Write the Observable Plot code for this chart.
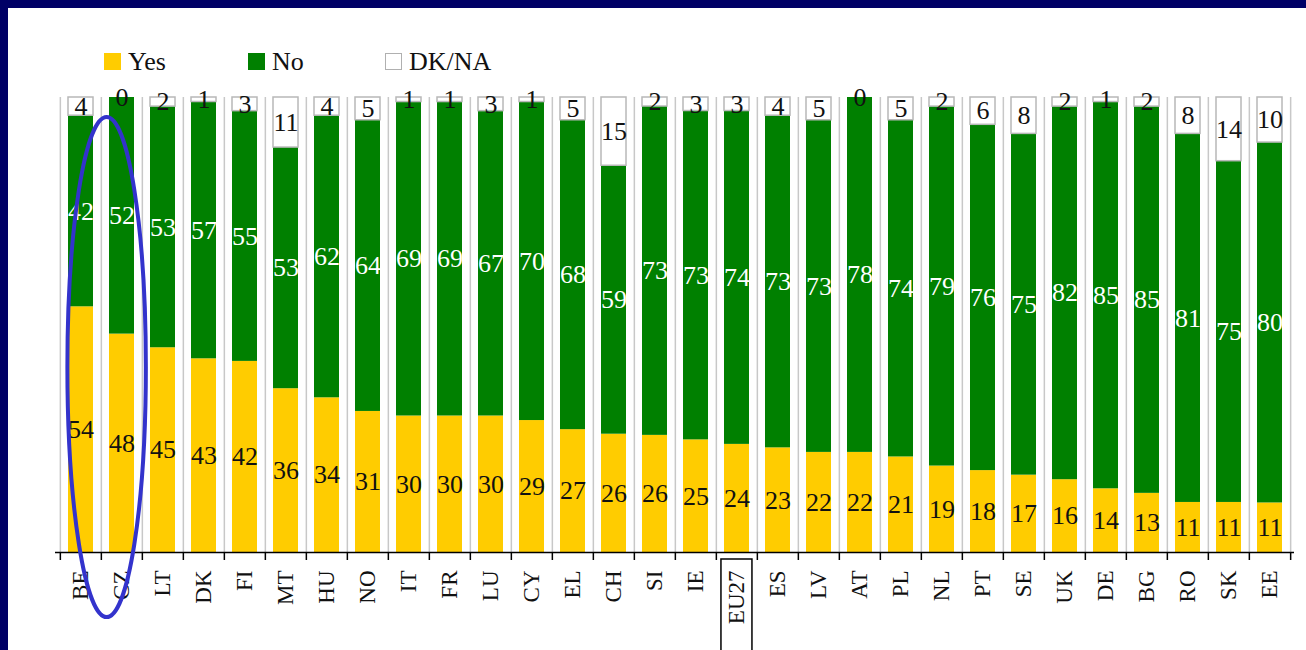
<!DOCTYPE html>
<html><head><meta charset="utf-8">
<script src="https://cdn.jsdelivr.net/npm/d3@7"></script>
<script src="https://cdn.jsdelivr.net/npm/@observablehq/plot@0.6"></script>
<style>
html,body{margin:0;padding:0;background:#fff;width:1306px;height:650px;overflow:hidden;}
#page{position:absolute;left:0;top:0;width:1306px;height:650px;background:#fff;overflow:hidden;font-family:"Liberation Serif",serif;}
.bar{position:absolute;background:#000066;}
.item{position:absolute;top:48px;height:27px;display:flex;align-items:center;font-size:26px;color:#111;white-space:nowrap;}
.sw{width:17px;height:17px;margin-right:7px;box-sizing:border-box;}
#chart{position:absolute;left:8px;top:80px;width:1298px;height:570px;overflow:hidden;}
</style></head>
<body>
<div id="page">
  <div class="bar" style="left:0;top:0;width:1306px;height:8px;"></div>
  <div class="bar" style="left:0;top:0;width:8px;height:650px;"></div>
  <div id="legend"></div>
  <div id="chart"></div>
</div>
<script>
const countries = ["BE","CZ","LT","DK","FI","MT","HU","NO","IT","FR","LU","CY","EL","CH","SI","IE","EU27","ES","LV","AT","PL","NL","PT","SE","UK","DE","BG","RO","SK","EE"];
const yes  = [54,48,45,43,42,36,34,31,30,30,30,29,27,26,26,25,24,23,22,22,21,19,18,17,16,14,13,11,11,11];
const no   = [42,52,53,57,55,53,62,64,69,69,67,70,68,59,73,73,74,73,73,78,74,79,76,75,82,85,85,81,75,80];
const dkna = [4,0,2,1,3,11,4,5,1,1,3,1,5,15,2,3,3,4,5,0,5,2,6,8,2,1,2,8,14,10];
const series = ["Yes","No","DK/NA"];
const colors = ["#FFCC00","#008000","#FFFFFF"];
const legendLeft = [104, 248, 385];
const highlighted = "CZ";
const boxed = "EU27";

const rows = countries.flatMap((c, i) => [
  {country: c, series: "Yes", value: yes[i]},
  {country: c, series: "No", value: no[i]},
  {country: c, series: "DK/NA", value: dkna[i]}
]);

// legend
const legend = document.getElementById("legend");
series.forEach((s, i) => {
  const it = document.createElement("div");
  it.className = "item";
  it.style.left = legendLeft[i] + "px";
  const sw = document.createElement("div");
  sw.className = "sw";
  sw.style.background = colors[i];
  if (s === "DK/NA") sw.style.border = "1.5px solid #b0b0b0";
  it.appendChild(sw);
  const t = document.createElement("span");
  t.textContent = s;
  it.appendChild(t);
  legend.appendChild(it);
});

const W = 1298, H = 570, mL = 47, mR = 12, mT = 17, mB = 98;
const step = (W - mL - mR) / countries.length;
const stackOpts = {x: "country", y: "value", z: "series", offset: "normalize"};

const chart = Plot.plot({
  width: W, height: H,
  marginLeft: mL, marginRight: mR, marginTop: mT, marginBottom: mB,
  style: {fontFamily: "'Liberation Serif', serif", fontSize: "23px", color: "#111", background: "transparent"},
  x: {domain: countries, paddingInner: 0.4, paddingOuter: 0.2, tickSize: 0, tickPadding: 18, tickRotate: -90, label: null},
  y: {domain: [0, 1], axis: null},
  color: {domain: series, range: colors},
  opacity: {type: "identity"},
  marks: [
    Plot.ruleX(countries, {x: d => d, dx: -step / 2, y1: 0, y2: 1, stroke: "#c8c8c8", strokeWidth: 1.5}),
    Plot.ruleX(countries.slice(-1), {x: d => d, dx: step / 2, y1: 0, y2: 1, stroke: "#c8c8c8", strokeWidth: 1.5}),
    Plot.barY(rows, Plot.stackY({...stackOpts, fill: "series"})),
    Plot.barY(rows, Plot.stackY({...stackOpts, fill: "none", stroke: "#b8b8b8", strokeWidth: 1.5,
      strokeOpacity: d => d.series === "DK/NA" ? 1 : 0})),
    Plot.ruleY([0], {stroke: "#000", strokeWidth: 1.5}),
    Plot.ruleX(countries, {x: d => d, dx: -step / 2, y1: 0, y2: 0, insetBottom: -8, stroke: "#000", strokeWidth: 1.5}),
    Plot.ruleX(countries.slice(-1), {x: d => d, dx: step / 2, y1: 0, y2: 0, insetBottom: -8, stroke: "#000", strokeWidth: 1.5}),
    Plot.text(rows, Plot.stackY({...stackOpts, text: d => d.series === "No" ? "" : String(d.value), fill: "#111", fontSize: 26})),
    Plot.text(rows, Plot.stackY({...stackOpts, text: d => d.series === "No" ? String(d.value) : "", fill: "#fff", fontSize: 26}))
  ]
});
document.getElementById("chart").appendChild(chart);

// annotations derived from the chart's scales
const sx = chart.scale("x"), sy = chart.scale("y");
const xb = d3.scaleBand(sx.domain, sx.range).paddingInner(sx.paddingInner).paddingOuter(sx.paddingOuter).align(sx.align ?? 0.5);
const yl = d3.scaleLinear(sy.domain, sy.range);
const svg = d3.select(chart);
// ellipse around CZ
const cxE = xb(highlighted) + xb.bandwidth() / 2 - step * 0.25;
const yTop = yl(0.956), yBot = yl(-0.143);
svg.append("ellipse")
  .attr("cx", cxE).attr("cy", (yTop + yBot) / 2)
  .attr("rx", step * 0.95).attr("ry", (yBot - yTop) / 2)
  .attr("fill", "none").attr("stroke", "#3333CC").attr("stroke-width", 4);
// box around EU27 label
const cxB = xb(boxed) + xb.bandwidth() / 2;
svg.append("rect")
  .attr("x", cxB - 15.5).attr("y", yl(0) + 7)
  .attr("width", 31).attr("height", H)
  .attr("fill", "none").attr("stroke", "#000").attr("stroke-width", 1.5);
</script>
</body></html>
